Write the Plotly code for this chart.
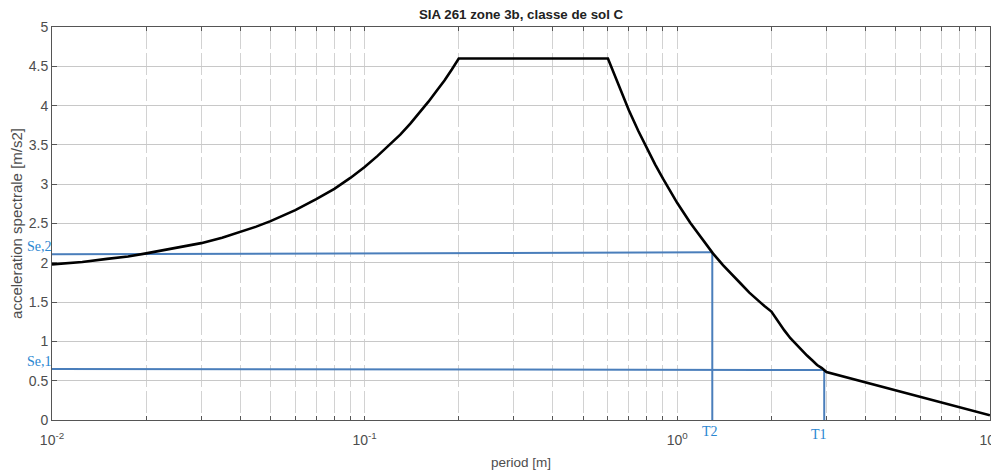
import math
import plotly.graph_objects as go

# Spectrum (period [s], acceleration [m/s2])
period = [0.01, 0.0125, 0.015, 0.0175, 0.02, 0.025, 0.03, 0.035, 0.04, 0.045,
          0.05, 0.06, 0.07, 0.08, 0.09, 0.10, 0.11, 0.12, 0.13, 0.14,
          0.15, 0.16, 0.17, 0.18, 0.19, 0.20, 0.60, 0.65, 0.70, 0.75,
          0.80, 0.85, 0.90, 0.95, 1.00, 1.10, 1.20, 1.30, 1.40, 1.50,
          1.60, 1.70, 1.80, 1.90, 2.00, 2.10, 2.20, 2.30, 2.40, 2.50,
          2.60, 2.70, 2.80, 2.90, 3.00, 10.0]
accel = [1.98, 2.01, 2.05, 2.08, 2.12, 2.19, 2.25, 2.32, 2.39, 2.46,
         2.53, 2.67, 2.81, 2.94, 3.08, 3.22, 3.36, 3.50, 3.63, 3.77,
         3.91, 4.05, 4.19, 4.32, 4.46, 4.60, 4.60, 4.25, 3.94, 3.68,
         3.45, 3.25, 3.07, 2.91, 2.76, 2.51, 2.30, 2.12, 1.97, 1.84,
         1.73, 1.62, 1.53, 1.45, 1.38, 1.25, 1.14, 1.04, 0.96, 0.88,
         0.82, 0.76, 0.70, 0.66, 0.61, 0.06]

# Reading guides
se2_x = [0.01, 1.294]
se2_y = [2.108, 2.134]
t2_x = [1.294, 1.294]
t2_y = [0.0, 2.134]
se1_x = [0.01, 2.951]
se1_y = [0.649, 0.636]
t1_x = [2.951, 2.951]
t1_y = [0.0, 0.636]

x_ticks = [m * 10.0 ** e for e in (-2, -1, 0) for m in range(1, 10)] + [10.0]
x_ticktext = ["10<sup>-2</sup>" if v == 0.01 else "10<sup>-1</sup>" if v == 0.1
              else "10<sup>0</sup>" if v == 1.0 else "10<sup>1</sup>" if v == 10.0 else ""
              for v in x_ticks]
y_ticks = [0, 0.5, 1, 1.5, 2, 2.5, 3, 3.5, 4, 4.5, 5]
y_ticktext = ["0", "0.5", "1", "1.5", "2", "2.5", "3", "3.5", "4", "4.5", "5"]

guide_color = "#4a7ebb"
label_color = "#2a86d1"

fig = go.Figure()
for gx, gy in ((se2_x, se2_y), (t2_x, t2_y), (se1_x, se1_y), (t1_x, t1_y)):
    fig.add_trace(go.Scatter(x=gx, y=gy, mode="lines",
                             line=dict(color=guide_color, width=2),
                             showlegend=False, hoverinfo="skip"))
fig.add_trace(go.Scatter(x=period, y=accel, mode="lines",
                         line=dict(color="black", width=2.6, shape="linear"),
                         showlegend=False))

serif = dict(family="Liberation Serif, Times New Roman, serif", size=14, color=label_color)
fig.add_annotation(text="Se,2", xref="paper", x=0, xanchor="right", y=2.21, yref="y",
                   showarrow=False, font=serif, xshift=2)
fig.add_annotation(text="Se,1", xref="paper", x=0, xanchor="right", y=0.74, yref="y",
                   showarrow=False, font=serif, xshift=2)
fig.add_annotation(text="T2", x=math.log10(t2_x[0]), xref="x", y=0, yref="paper", yanchor="top",
                   showarrow=False, font=serif, yshift=-2, xshift=-2)
fig.add_annotation(text="T1", x=math.log10(t1_x[0]), xref="x", y=0, yref="paper", yanchor="top",
                   showarrow=False, font=serif, yshift=-5, xshift=-5)

axis_font = dict(family="Liberation Sans, Arial, sans-serif", size=14, color="#4d4d4d")

fig.update_layout(
    width=991, height=462,
    margin=dict(l=44, r=9, t=19, b=50),
    plot_bgcolor="white", paper_bgcolor="white",
    title=dict(text="<b>SIA 261 zone 3b, classe de sol C</b>", x=0.5177, xanchor="center",
               y=0.987, yanchor="middle", automargin=False,
               font=dict(family="Liberation Sans, Arial, sans-serif", size=13.3, color="#222222")),
    xaxis=dict(type="log", range=[-2, 1.0002], tickvals=x_ticks, ticktext=x_ticktext,
               ticks="inside", ticklen=4, tickcolor="#555555", mirror="ticks",
               showline=True, linecolor="#555555", linewidth=1, automargin=False,
               showgrid=True, gridcolor="#d2d2d2", griddash="22px,4px", gridwidth=1.3,
               tickfont=axis_font, zeroline=False, ticklabelstandoff=7,
               ticklabeloverflow="allow",
               title=dict(text="period [m]", standoff=14,
                          font=dict(family="Liberation Sans, Arial, sans-serif", size=13.5, color="#4d4d4d"))),
    yaxis=dict(range=[0, 5], tickvals=y_ticks, ticktext=y_ticktext,
               ticks="inside", ticklen=5, tickcolor="#555555", mirror="ticks",
               showline=True, linecolor="#555555", linewidth=1, automargin=False,
               showgrid=True, gridcolor="#c8c8c8", gridwidth=1.3,
               tickfont=axis_font, zeroline=False,
               title=dict(text="acceleration spectrale [m/s2]", standoff=2,
                          font=dict(family="Liberation Sans, Arial, sans-serif", size=15, color="#4d4d4d"))),
)

fig.write_html("out.html")
